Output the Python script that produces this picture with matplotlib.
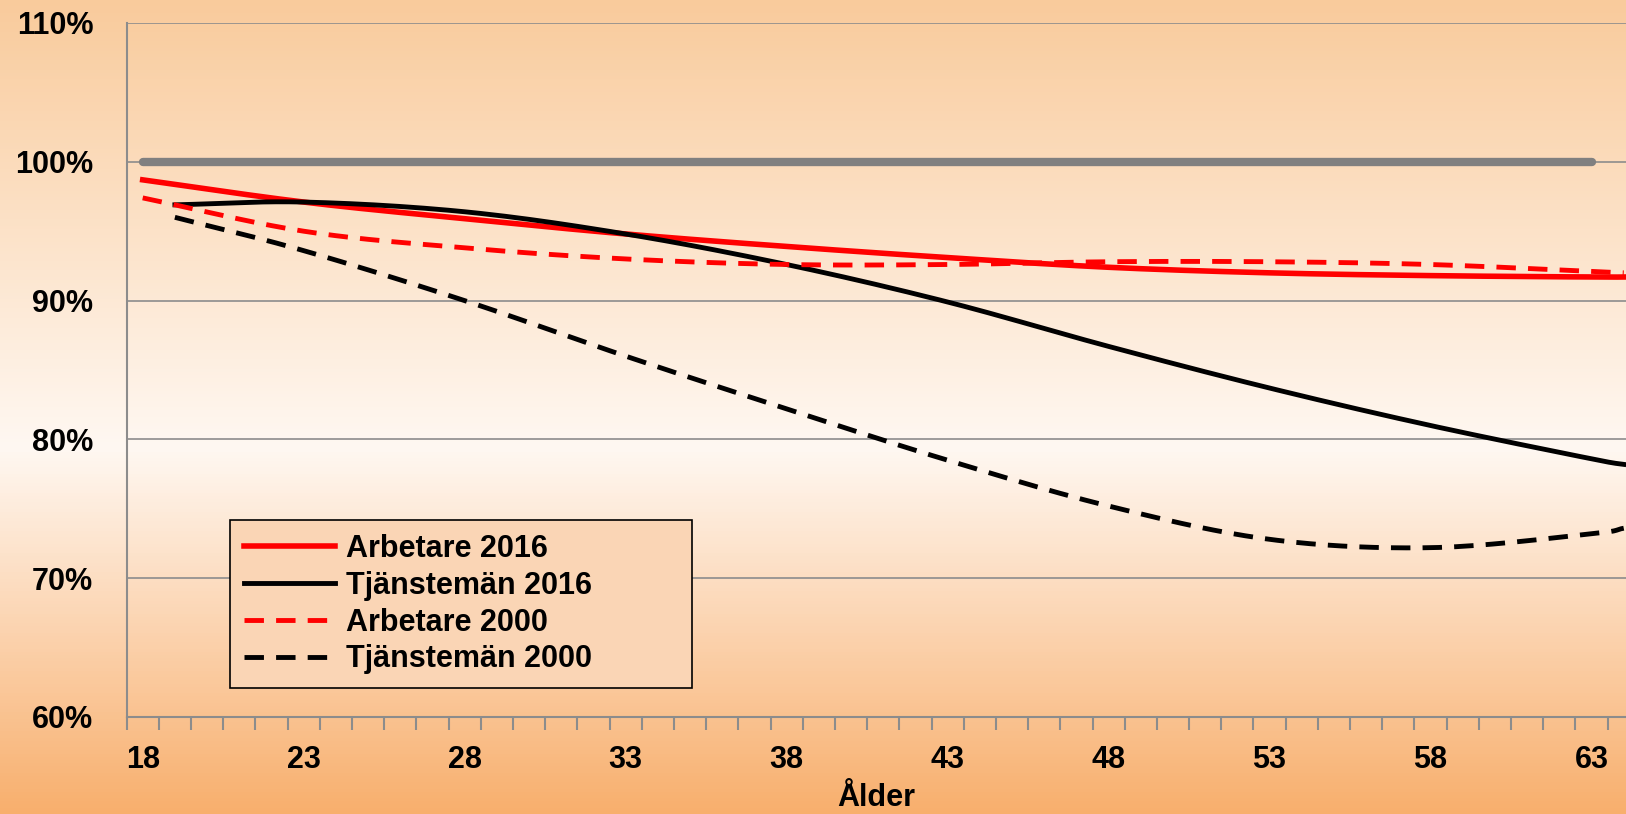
import numpy as np
import matplotlib.pyplot as plt
from matplotlib.colors import LinearSegmentedColormap

plt.rcParams['font.family'] = ['Liberation Sans', 'DejaVu Sans']
plt.rcParams['font.weight'] = 'bold'

ages_a16 = [18, 23, 28, 33, 38, 43, 48, 53, 58, 63, 64]
arbetare_2016 = [98.7, 97.1, 95.9, 94.8, 93.9, 93.1, 92.4, 92.0, 91.8, 91.7, 91.7]
ages_t16 = [19, 23, 28, 33, 38, 43, 48, 53, 58, 63, 64]
tjansteman_2016 = [96.9, 97.1, 96.4, 94.8, 92.6, 89.9, 86.7, 83.7, 81.0, 78.6, 78.2]
ages_a00 = [18, 23, 28, 33, 38, 43, 48, 53, 58, 63, 64]
arbetare_2000 = [97.4, 95.0, 93.8, 93.0, 92.6, 92.6, 92.8, 92.8, 92.6, 92.1, 92.0]
ages_t00 = [19, 23, 28, 33, 38, 43, 48, 53, 58, 63, 64]
tjansteman_2000 = [96.0, 93.6, 90.0, 86.0, 82.2, 78.5, 75.2, 72.8, 72.2, 73.2, 73.6]
ref_ages = [18, 63]
ref_vals = [100, 100]


def smooth(x, y, n=20):
    # Catmull-Rom smoothing, like Excel's smoothed lines
    x = np.asarray(x, float); y = np.asarray(y, float)
    px = np.concatenate([[2 * x[0] - x[1]], x, [2 * x[-1] - x[-2]]])
    py = np.concatenate([[2 * y[0] - y[1]], y, [2 * y[-1] - y[-2]]])
    ox, oy = [], []
    for i in range(1, len(px) - 2):
        t = np.linspace(0, 1, n, endpoint=False)
        for arr, out in ((px, ox), (py, oy)):
            p0, p1, p2, p3 = arr[i - 1:i + 3]
            out.extend(0.5 * (2 * p1 + (-p0 + p2) * t + (2 * p0 - 5 * p1 + 4 * p2 - p3) * t ** 2
                              + (-p0 + 3 * p1 - 3 * p2 + p3) * t ** 3))
    ox.append(x[-1]); oy.append(y[-1])
    return ox, oy


fig = plt.figure(figsize=(16.26, 8.14), dpi=100)
bg = fig.add_axes([0, 0, 1, 1], zorder=-1)
cmap = LinearSegmentedColormap.from_list('bg', [(0, '#F8AF6D'), (0.45, '#FFF8F2'), (1, '#F9CB9C')])
bg.imshow(np.linspace(0, 1, 256).reshape(-1, 1), aspect='auto', cmap=cmap, extent=[0, 1, 0, 1], origin='lower')
bg.axis('off')

ax = fig.add_axes([126.6 / 1626, 1 - 717 / 814, 1 - 126.6 / 1626, (717 - 23) / 814])
ax.patch.set_alpha(0)
ax.set_xlim(17.5, 64.07)
ax.set_ylim(60, 110)
ax.set_yticks(range(60, 111, 10))
ax.set_yticklabels([f'{v}%' for v in range(60, 111, 10)])
ax.grid(axis='y', color='#8C8C8C', lw=1.2)
ax.set_axisbelow(True)
ax.set_xticks(range(18, 64, 5))
ax.set_xticks(np.arange(17.5, 64.5, 1), minor=True)
ax.tick_params(axis='x', which='major', length=0, pad=20)
ax.tick_params(axis='x', which='minor', length=9, color='#8C8C8C', width=1.5)
ax.tick_params(axis='y', length=0, pad=24)
ax.tick_params(labelsize=22)
for s in ['top', 'right']:
    ax.spines[s].set_visible(False)
for s in ['left', 'bottom']:
    ax.spines[s].set_color('#8C8C8C')
    ax.spines[s].set_linewidth(1.5)
ax.set_xlabel('Ålder', fontsize=22, fontweight='bold', labelpad=6)

ax.plot(ref_ages, ref_vals, color='#808080', lw=6, solid_capstyle='round')
ax.plot(*smooth(ages_a16, arbetare_2016), color='#FF0000', lw=4, label='Arbetare 2016')
ax.plot(*smooth(ages_t16, tjansteman_2016), color='black', lw=3.5, label='Tjänstemän 2016')
ax.plot(*smooth(ages_a00, arbetare_2000), color='#FF0000', lw=3.5, ls=(0, (4, 2.5)), label='Arbetare 2000')
ax.plot(*smooth(ages_t00, tjansteman_2000), color='black', lw=3.5, ls=(0, (4, 2.5)), label='Tjänstemän 2000')

leg = ax.legend(loc='lower left', bbox_to_anchor=((230 - 126.6) / 1499.4, (717 - 688) / 694, 462 / 1499.4, 161 / 694),
                mode='expand', fontsize=22, frameon=True, fancybox=False, handlelength=3.0,
                handletextpad=0.35, borderaxespad=0, labelspacing=0.22, borderpad=0.45)
leg.get_frame().set_facecolor('#FAD5B5')
leg.get_frame().set_edgecolor('black')
leg.get_frame().set_linewidth(1.2)
leg.get_frame().set_alpha(1)

fig.savefig('out.png', dpi=100)
